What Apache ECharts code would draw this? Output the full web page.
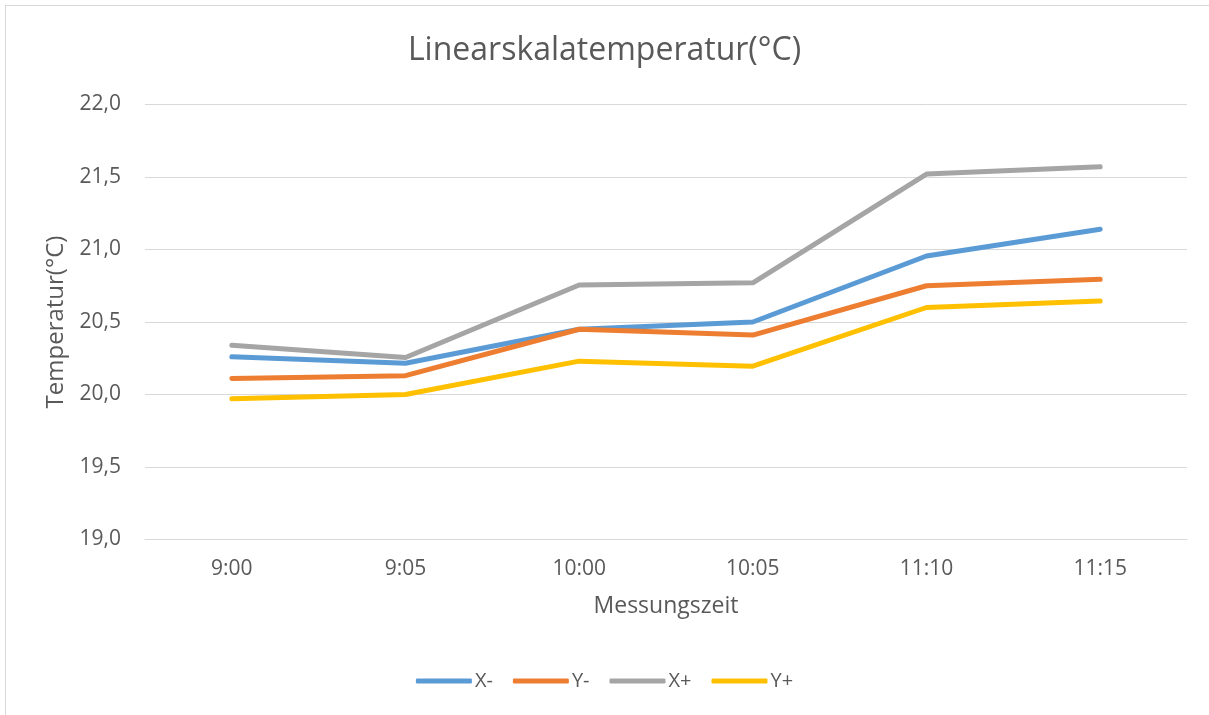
<!DOCTYPE html>
<html>
<head>
<meta charset="utf-8">
<script src="https://cdn.jsdelivr.net/npm/echarts@6/dist/echarts.min.js"></script>
<style>
html,body{margin:0;padding:0;background:#fff;overflow:hidden;}
#frame{position:absolute;left:5px;top:5px;width:1220px;height:730px;border:1px solid #d9d9d9;box-sizing:border-box;}
#chart{position:absolute;left:0;top:0;width:1209px;height:715px;}
</style>
</head>
<body>
<div id="frame"></div>
<div id="chart"></div>
<script>
const categories = ['9:00', '9:05', '10:00', '10:05', '11:10', '11:15'];
const seriesNames = ['X-', 'Y-', 'X+', 'Y+'];
const xMinus = [20.26, 20.215, 20.45, 20.50, 20.955, 21.14];
const yMinus = [20.11, 20.13, 20.45, 20.41, 20.75, 20.795];
const xPlus  = [20.34, 20.255, 20.755, 20.77, 21.52, 21.57];
const yPlus  = [19.97, 20.00, 20.23, 20.195, 20.60, 20.645];
const colors = ['#5B9BD5', '#ED7D31', '#A5A5A5', '#FFC000'];
const seriesData = [xMinus, yMinus, xPlus, yPlus];

const FONT = 'Open Sans';
const chart = echarts.init(document.getElementById('chart'));
chart.setOption({
  animation: false,
  textStyle: { fontFamily: FONT },
  title: {
    text: 'Linearskalatemperatur(°C)',
    left: 'center', top: 30,
    textStyle: { fontFamily: FONT, fontSize: 32, fontWeight: 'normal', color: '#595959' }
  },
  legend: {
    top: 666, left: 'center',
    itemWidth: 56, itemHeight: 5, itemGap: 20,
    icon: 'roundRect',
    data: seriesNames,
    textStyle: { fontFamily: FONT, fontSize: 20, color: '#595959', padding: [0, 0, 0, -2] }
  },
  grid: { left: 145, right: 22, top: 104.5, bottom: 175.5, containLabel: false },
  xAxis: {
    type: 'category',
    data: categories,
    boundaryGap: true,
    name: 'Messungszeit',
    nameLocation: 'middle',
    nameGap: 55,
    nameTextStyle: { fontFamily: FONT, fontSize: 23, color: '#595959' },
    axisLine: { show: true, lineStyle: { color: '#d9d9d9', width: 1 } },
    axisTick: { show: false },
    axisLabel: { fontFamily: FONT, fontSize: 21, color: '#595959', margin: 19 }
  },
  yAxis: {
    type: 'value',
    min: 19, max: 22, interval: 0.5,
    name: 'Temperatur(°C)',
    nameLocation: 'middle',
    nameGap: 77,
    nameRotate: 90,
    nameTextStyle: { fontFamily: FONT, fontSize: 24, color: '#595959' },
    axisLine: { show: false },
    axisTick: { show: false },
    splitLine: { lineStyle: { color: '#d9d9d9', width: 1 } },
    axisLabel: {
      fontFamily: FONT, fontSize: 21, color: '#595959', margin: 24,
      formatter: v => v.toFixed(1).replace('.', ',')
    }
  },
  series: seriesNames.map((n, i) => ({
    name: n,
    type: 'line',
    data: seriesData[i],
    symbol: 'none',
    lineStyle: { color: colors[i], width: 5, cap: 'round', join: 'round' },
    itemStyle: { color: colors[i] }
  }))
});
</script>
</body>
</html>
